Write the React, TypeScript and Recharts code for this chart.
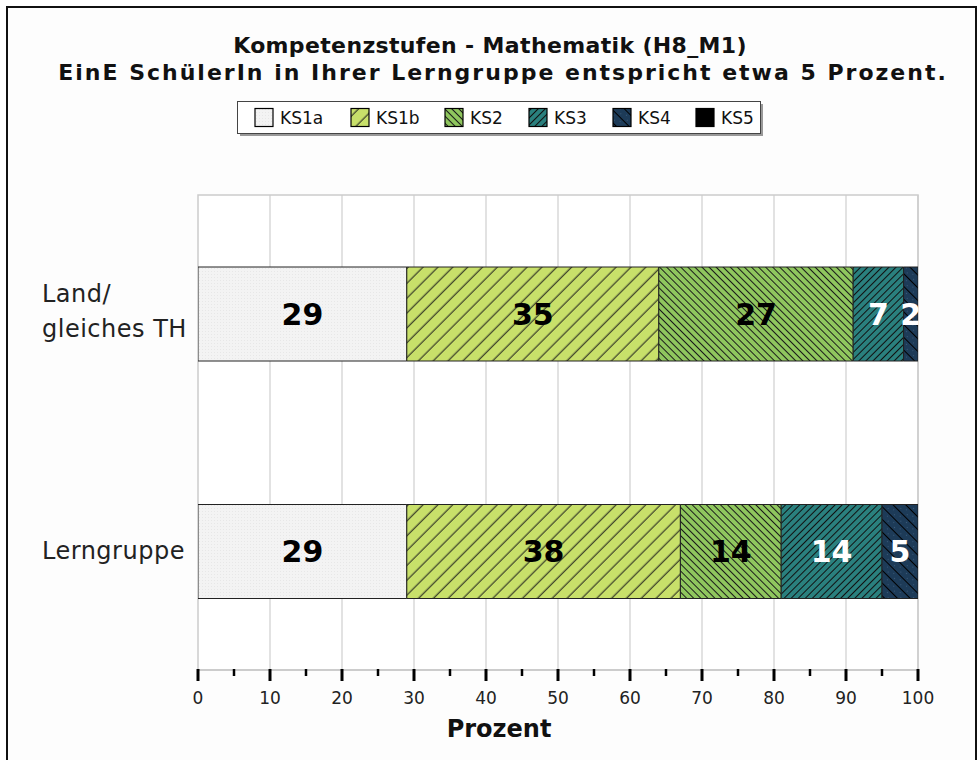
import React from 'react';
import { BarChart, Bar, XAxis, YAxis, CartesianGrid, ReferenceArea, LabelList } from 'recharts';

const categories = ['Land/\ngleiches TH', 'Lerngruppe'];
const seriesNames = ['KS1a', 'KS1b', 'KS2', 'KS3', 'KS4', 'KS5'];
const ks1a = [29, 29];
const ks1b = [35, 38];
const ks2 = [27, 14];
const ks3 = [7, 14];
const ks4 = [2, 5];
const ks5 = [0, 0];
const xTicks = [0, 5, 10, 15, 20, 25, 30, 35, 40, 45, 50, 55, 60, 65, 70, 75, 80, 85, 90, 95, 100];
const gridValues = [10, 20, 30, 40, 50, 60, 70, 80, 90, 100];
const titleLine1 = 'Kompetenzstufen - Mathematik  (H8_M1)';
const titleLine2 = 'EinE SchülerIn in Ihrer Lerngruppe entspricht etwa 5 Prozent.';
const xAxisTitle = 'Prozent';

const seriesValues = [ks1a, ks1b, ks2, ks3, ks4, ks5];
const labelColors = ['#000', '#000', '#000', '#fff', '#fff', '#fff'];
const patternKeys = ['1a', '1b', '2', '3', '4', '5'];

const data = categories.map((name, i) => {
  const row: Record<string, any> = { name };
  seriesNames.forEach((s, j) => {
    row[s] = seriesValues[j][i];
  });
  return row;
});

const FONT = '"DejaVu Sans", Verdana, sans-serif';

function Patterns({ prefix }: { prefix: string }) {
  return (
    <defs>
      <pattern id={`${prefix}1a`} width={3} height={3} patternUnits="userSpaceOnUse">
        <rect width={3} height={3} fill="#f3f3f3" />
        <rect x={1} y={1} width={1} height={1} fill="#e7e7e7" />
      </pattern>
      <pattern id={`${prefix}1b`} width={10.5} height={10.5} patternUnits="userSpaceOnUse" patternTransform="rotate(45)">
        <rect width={10.5} height={10.5} fill="#c8e06a" />
        <line x1={5} y1={0} x2={5} y2={10.5} stroke="#1a1a1a" strokeWidth={1} />
      </pattern>
      <pattern id={`${prefix}2`} width={5} height={5} patternUnits="userSpaceOnUse" patternTransform="rotate(-45)">
        <rect width={5} height={5} fill="#8fc65e" />
        <line x1={2.5} y1={0} x2={2.5} y2={5} stroke="#1a1a1a" strokeWidth={1} />
      </pattern>
      <pattern id={`${prefix}3`} width={5} height={5} patternUnits="userSpaceOnUse" patternTransform="rotate(45)">
        <rect width={5} height={5} fill="#2a807e" />
        <line x1={2.5} y1={0} x2={2.5} y2={5} stroke="#111" strokeWidth={1} />
      </pattern>
      <pattern id={`${prefix}4`} width={9} height={9} patternUnits="userSpaceOnUse" patternTransform="rotate(-45)">
        <rect width={9} height={9} fill="#1d3b58" />
        <line x1={4.5} y1={0} x2={4.5} y2={9} stroke="#000" strokeWidth={1} />
        <rect x={1} y={2} width={1} height={1} fill="#3b5a78" />
        <rect x={7} y={6} width={1} height={1} fill="#3b5a78" />
      </pattern>
      <pattern id={`${prefix}5`} width={4} height={4} patternUnits="userSpaceOnUse">
        <rect width={4} height={4} fill="#000" />
      </pattern>
    </defs>
  );
}

const XTick = (props: any) => {
  const { x, y, payload } = props;
  const v = payload.value;
  const major = v % 10 === 0;
  return (
    <g>
      <line x1={x} x2={x} y1={y - 1} y2={y + (major ? 11 : 6)} stroke="#000" strokeWidth={major ? 3 : 2.5} />
      {major && (
        <text x={x} y={y + 34} textAnchor="middle" fontSize={17} fill="#222" fontFamily={FONT}>
          {v}
        </text>
      )}
    </g>
  );
};

const YTick = (props: any) => {
  const { x, y, payload } = props;
  const lines = String(payload.value).split('\n');
  const start = y + 8 - (lines.length - 1) * 19.5;
  return (
    <text x={x - 156} y={start} textAnchor="start" fontSize={24} letterSpacing={0.5} fill="#222" fontFamily={FONT}>
      {lines.map((l, i) => (
        <tspan key={i} x={x - 156} y={start + i * 35}>
          {l}
        </tspan>
      ))}
    </text>
  );
};

const gridGen = ({ xAxis, offset }: any) => {
  const sc = xAxis && typeof xAxis.scale === 'function' ? xAxis.scale : null;
  return gridValues.map((v) => (sc ? sc(v) : offset.left + (v / 100) * offset.width));
};

const legendX = [255, 351, 445, 529, 613, 696];

export default function App() {
  return (
    <div
      style={{
        position: 'fixed',
        left: 0,
        top: 0,
        width: 979,
        height: 760,
        overflow: 'hidden',
        background: '#fff',
      }}
    >
      <div
        style={{
          position: 'absolute',
          left: 6,
          top: 6,
          width: 967,
          height: 800,
          borderLeft: '2px solid #111',
          borderTop: '2px solid #111',
          borderRight: '2px solid #111',
          background: '#fdfdfd',
        }}
      />
      <div style={{ position: 'absolute', left: 0, top: 0 }}>
        <BarChart
          width={979}
          height={760}
          data={data}
          layout="vertical"
          margin={{ top: 195, right: 61, bottom: 0, left: 0 }}
          barSize={94}
        >
          <Patterns prefix="c" />
          <CartesianGrid
            horizontal={false}
            vertical
            verticalCoordinatesGenerator={gridGen}
            stroke="#e2e2e2"
            strokeWidth={2}
            fill="#fff"
            fillOpacity={1}
          />
          <ReferenceArea x1={0} x2={100} fill="none" stroke="#cccccc" strokeWidth={1.5} ifOverflow="visible" />
          <XAxis
            type="number"
            domain={[0, 100]}
            ticks={xTicks}
            interval={0}
            tickLine={false}
            tickSize={0}
            tickMargin={0}
            tick={<XTick />}
            axisLine={{ stroke: '#cccccc', strokeWidth: 2 }}
            height={90}
            allowDataOverflow
          />
          <YAxis
            type="category"
            dataKey="name"
            width={198}
            axisLine={false}
            tickLine={false}
            tickSize={0}
            tickMargin={0}
            tick={<YTick />}
          />
          {seriesNames.map((s, j) => (
            <Bar
              key={s}
              dataKey={s}
              stackId="a"
              fill={`url(#c${patternKeys[j]})`}
              stroke="#222"
              strokeWidth={1}
              isAnimationActive={false}
            >
              <LabelList
                dataKey={s}
                position="center"
                fill={labelColors[j]}
                stroke="none"
                fontSize={30}
                fontWeight="bold"
                fontFamily={FONT}
                formatter={(v: any) => (v ? String(v) : '')}
              />
            </Bar>
          ))}
        </BarChart>
      </div>
      <svg
        width={979}
        height={760}
        style={{ position: 'absolute', left: 0, top: 0, pointerEvents: 'none' }}
      >
        <Patterns prefix="l" />
        <text x={490} y={53} textAnchor="middle" fontSize={22} letterSpacing={0.35} fontWeight="bold" fill="#111" fontFamily={FONT}>
          {titleLine1}
        </text>
        <text x={503} y={80} textAnchor="middle" fontSize={22} letterSpacing={2} fontWeight="bold" fill="#111" fontFamily={FONT}>
          {titleLine2}
        </text>
        <text x={499} y={737} textAnchor="middle" fontSize={24} fontWeight="bold" fill="#111" fontFamily={FONT}>
          {xAxisTitle}
        </text>
        <rect x={240} y={104} width={523} height={32} fill="#999" />
        <rect x={237.5} y={101.5} width={523} height={32} fill="#fff" stroke="#444" strokeWidth={1} />
        {seriesNames.map((s, j) => (
          <g key={s}>
            <rect x={legendX[j]} y={108.5} width={18} height={18} fill={`url(#l${patternKeys[j]})`} stroke="#000" strokeWidth={1.2} />
            <text x={legendX[j] + 25} y={124} fontSize={17} fill="#111" fontFamily={FONT}>
              {s}
            </text>
          </g>
        ))}
      </svg>
    </div>
  );
}
